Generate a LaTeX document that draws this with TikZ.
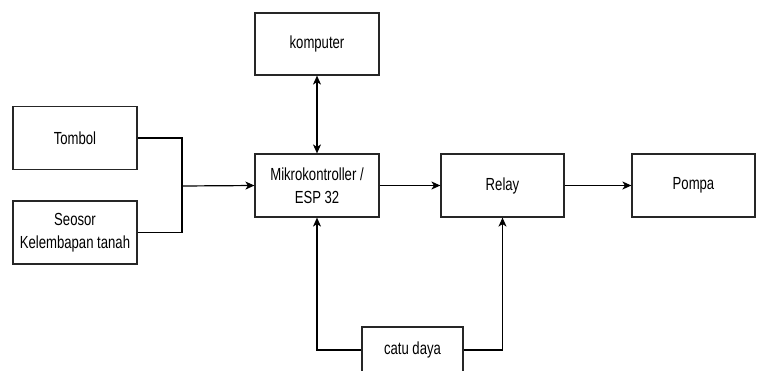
\documentclass[tikz,border=0pt]{standalone}
\usepackage{fontspec}
\setmainfont{Liberation Sans}[FakeStretch=0.75]
\usetikzlibrary{arrows.meta}
\begin{document}
\begin{tikzpicture}[x=1pt,y=-1pt,
  blok/.style={draw=black!85, line width=1.2pt, minimum width=124pt, minimum height=63pt,
    inner sep=0pt, align=center, font=\fontsize{17.5}{23.5}\selectfont},
  link/.style={draw=black, line width=1.2pt},
  tip/.style={-{Stealth[length=9pt,width=8pt,inset=2.5pt]}},
  both/.style={{Stealth[length=9pt,width=8pt,inset=2.5pt]}-{Stealth[length=9pt,width=8pt,inset=2.5pt]}}]
\useasboundingbox (0,0) rectangle (757,370);
\clip (0,0) rectangle (757,370);
\fill[white] (0,0) rectangle (757,370);

% blocks
\node[blok] (tombol) at (75,138) {Tombol};
\node[blok] (sensor) at (75,232.5) {Seosor\\Kelembapan tanah};
\node[blok] (mcu) at (317,185.5) {Mikrokontroller /\\ESP 32};
\node[blok, minimum height=62pt] (pc) at (317,44) {komputer};
\node[blok, minimum width=123pt] (relay) at (502.5,185.5) {Relay};
\node[blok, minimum width=123pt] (pompa) at (693.5,185.5) {Pompa};
\node[blok, minimum width=101pt, minimum height=46pt] (catu) at (412.5,350) {catu daya};

% inputs merge into the controller
\coordinate (join) at (182,186);
\draw[link] (tombol.east) -| (join);
\draw[link] (sensor.east) -| (join);
\draw[link, tip] (join) -- (mcu.west);

% controller to computer, relay and pump
\draw[link, both] (pc.south) -- (mcu.north);
\draw[link, tip] (mcu.east) -- (relay.west);
\draw[link, tip] (relay.east) -- (pompa.west);

% power supply
\draw[link, tip] (catu.west) -| (mcu.south);
\draw[link, tip] (catu.east) -| (relay.south);
\end{tikzpicture}
\end{document}
